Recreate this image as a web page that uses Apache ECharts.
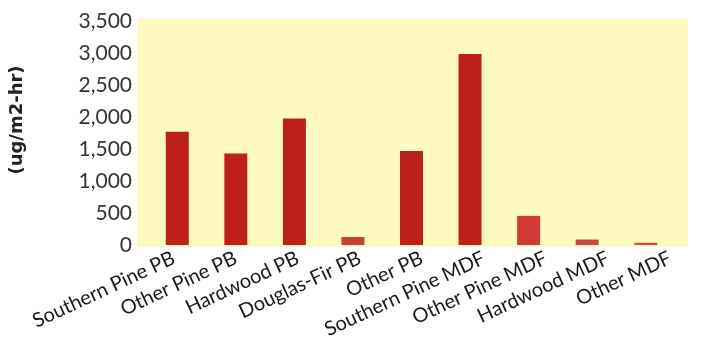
<!DOCTYPE html>
<html>
<head>
<meta charset="utf-8">
<script src="https://cdn.jsdelivr.net/npm/echarts@6/dist/echarts.min.js"></script>
<style>html,body{margin:0;padding:0;background:#fff;}#c{width:701px;height:346px;}</style>
</head>
<body>
<div id="c"></div>
<script>
const categories = ["Southern Pine PB","Other Pine PB","Hardwood PB","Douglas-Fir PB","Other PB","Southern Pine MDF","Other Pine MDF","Hardwood MDF","Other MDF"];
const values = [1770, 1430, 1975, 125, 1470, 2985, 455, 85, 35];
const barColors = ["#BD1F1A","#BD1F1A","#BD1F1A","#C4413A","#BD1F1A","#BD1F1A","#D13A36","#C94740","#CC4A44"];
const yTicks = {min: 0, max: 3500, interval: 500};
const yAxisTitle = "(ug/m2-hr)";

const chart = echarts.init(document.getElementById('c'), null, {renderer: 'canvas'});
chart.setOption({
  animation: false,
  backgroundColor: '#ffffff',
  graphic: [{
    type: 'rect', left: 137, top: 19, z: -10,
    shape: {width: 551, height: 228},
    style: {fill: '#FFFAC2'}
  }],
  grid: [
    {left: 144, right: 26, top: 21, bottom: 101},
    {left: 142.6, width: 564.8, top: 21, bottom: 101}
  ],
  xAxis: [{
    type: 'category',
    gridIndex: 0,
    data: categories,
    axisLine: {show: false},
    axisTick: {show: false},
    axisLabel: {show: false}
  }, {
    type: 'category',
    gridIndex: 1,
    data: categories,
    axisLine: {show: false},
    axisTick: {show: false},
    axisLabel: {
      rotate: 25, interval: 0, margin: 12,
      fontFamily: 'Lato', fontSize: 20, color: '#1a1a1a'
    }
  }],
  yAxis: [{
    type: 'value',
    gridIndex: 0,
    min: yTicks.min, max: yTicks.max, interval: yTicks.interval,
    splitLine: {show: false},
    axisLine: {show: false},
    axisTick: {show: false},
    axisLabel: {
      margin: 16, fontFamily: 'Lato', fontSize: 21, color: '#333333',
      formatter: v => v.toLocaleString('en-US')
    },
    name: yAxisTitle,
    nameLocation: 'middle',
    nameRotate: 90,
    nameGap: 122,
    nameTextStyle: {fontFamily: 'DejaVu Sans', fontWeight: 'bold', fontSize: 18, color: '#222222', padding: [0, 0, 0, 26]}
  }, {
    type: 'value',
    gridIndex: 1,
    min: yTicks.min, max: yTicks.max,
    show: false
  }],
  series: [{
    type: 'bar',
    xAxisIndex: 0, yAxisIndex: 0,
    data: values.map((v, i) => ({value: v, itemStyle: {color: barColors[i]}})),
    barWidth: 23
  }]
});
</script>
</body>
</html>
